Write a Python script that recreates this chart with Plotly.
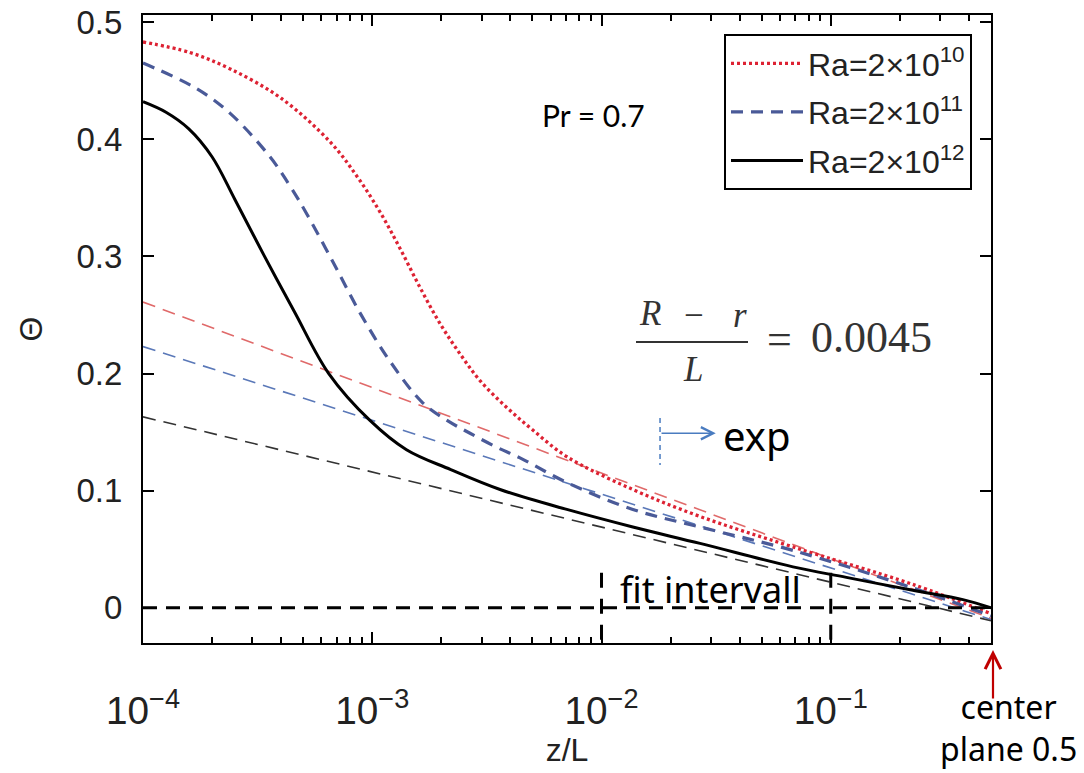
import plotly.graph_objects as go
import math

# ---------------- data ----------------
z_ra10 = [1.0e-4, 1.6e-4, 2.4e-4, 4.0e-4, 6.6e-4, 8.6e-4, 1.08e-3, 1.32e-3, 1.61e-3,
          1.97e-3, 2.41e-3, 2.95e-3, 3.86e-3, 5.0e-3, 7.06e-3, 1.37e-2, 2.69e-2,
          6.84e-2, 0.228, 0.5]
theta_ra10 = [0.483, 0.474, 0.460, 0.435, 0.397, 0.368, 0.338, 0.307, 0.274,
              0.243, 0.217, 0.194, 0.171, 0.152, 0.129, 0.101, 0.078,
              0.052, 0.020, -0.005]

z_ra11 = [1.0e-4, 1.72e-4, 2.4e-4, 3.58e-4, 4.38e-4, 5.19e-4, 6.75e-4, 8.83e-4, 1.19e-3,
          1.66e-3, 2.12e-3, 2.67e-3, 3.50e-3, 4.41e-3, 7.06e-3, 1.37e-2, 2.69e-2,
          6.84e-2, 0.228, 0.5]
theta_ra11 = [0.465, 0.443, 0.422, 0.385, 0.360, 0.336, 0.295, 0.252, 0.211,
              0.175, 0.160, 0.149, 0.137, 0.128, 0.107, 0.084, 0.069,
              0.049, 0.017, -0.007]

z_ra12 = [1.0e-4, 1.26e-4, 1.58e-4, 2.0e-4, 2.51e-4, 3.39e-4, 4.57e-4, 6.46e-4, 9.77e-4,
          1.41e-3, 2.2e-3, 3.61e-3, 7.06e-3, 1.37e-2, 2.69e-2, 6.84e-2, 0.117,
          0.228, 0.377, 0.5]
theta_ra12 = [0.432, 0.423, 0.409, 0.385, 0.349, 0.300, 0.253, 0.200, 0.160,
              0.135, 0.118, 0.101, 0.084, 0.069, 0.055, 0.035, 0.026,
              0.015, 0.007, 0.0]

# logarithmic fits (straight lines in log z)
fit_z = [1e-4, 0.5]
fit_ra10 = [0.261, -0.009]
fit_ra11 = [0.223, -0.010]
fit_ra12 = [0.163, -0.011]

zero_z = [1e-4, 0.5]
zero_theta = [0.0, 0.0]

fit_interval = [1e-2, 1e-1]
fit_mark_theta = [0.030, -0.030]

exp_z = 0.018
exp_theta = [0.162, 0.122]

legend_names = ["Ra=2×10<sup>10</sup>", "Ra=2×10<sup>11</sup>", "Ra=2×10<sup>12</sup>"]
y_ticks = [0, 0.1, 0.2, 0.3, 0.4, 0.5]

# ---------------- layout helpers (pixel -> paper) ----------------
L, R, T, B = 143, 991, 15, 643
def px(x):
    return (x - L) / (R - L)
def py(y):
    return (B - y) / (B - T)

fig = go.Figure()

# fit lines
fig.add_trace(go.Scatter(x=fit_z, y=fit_ra10, mode="lines", showlegend=False,
                         line=dict(color="#e06a6a", width=1.6, dash="13px,8px")))
fig.add_trace(go.Scatter(x=fit_z, y=fit_ra11, mode="lines", showlegend=False,
                         line=dict(color="#5a78b8", width=1.6, dash="13px,8px")))
fig.add_trace(go.Scatter(x=fit_z, y=fit_ra12, mode="lines", showlegend=False,
                         line=dict(color="#333333", width=1.6, dash="13px,8px")))

# main curves
fig.add_trace(go.Scatter(x=z_ra10, y=theta_ra10, mode="lines", name=legend_names[0],
                         legendgroup="g1",
                         line=dict(color="#dd2233", width=3.3, dash="3px,3px", shape="spline")))
fig.add_trace(go.Scatter(x=z_ra11, y=theta_ra11, mode="lines", name=legend_names[1],
                         legendgroup="g2",
                         line=dict(color="#4a5a98", width=3.2, dash="12px,8px", shape="spline")))
fig.add_trace(go.Scatter(x=z_ra12, y=theta_ra12, mode="lines", name=legend_names[2],
                         legendgroup="g3",
                         line=dict(color="black", width=3, shape="spline")))

# zero line and fit interval markers
fig.add_trace(go.Scatter(x=zero_z, y=zero_theta, mode="lines", showlegend=False,
                         line=dict(color="black", width=3, dash="14px,9px")))
for zf in fit_interval:
    fig.add_trace(go.Scatter(x=[zf, zf], y=fit_mark_theta, mode="lines", showlegend=False,
                             line=dict(color="black", width=3, dash="15px,11px")))

# exp marker (blue dashed vertical)
fig.add_trace(go.Scatter(x=[exp_z, exp_z], y=exp_theta, mode="lines", showlegend=False,
                         line=dict(color="#4a7cc0", width=1.5, dash="5px,4px")))

comic = "Noto Sans, Lato, sans-serif"
serif = "Liberation Serif, DejaVu Serif, serif"
ink = "#333333"

def label(xp, yp, text, font, xanchor="center"):
    return dict(x=px(xp), y=py(yp), xref="paper", yref="paper", text=text,
                showarrow=False, xanchor=xanchor, yanchor="middle", font=font)

ann = []
# exp arrow
ann.append(dict(x=math.log10(0.0315), y=0.149, ax=math.log10(exp_z), ay=0.149,
                xref="x", yref="y", axref="x", ayref="y", text="", showarrow=True,
                arrowhead=5, arrowsize=1.6, arrowwidth=1.5, arrowcolor="#4a7cc0"))
ann.append(label(721, 435, "exp", dict(family=comic, size=40, color="black"), "left"))
ann.append(label(710, 589, "fit intervall", dict(family=comic, size=36, color="black")))
ann.append(label(593, 115, "Pr = 0.7", dict(family="Lato, sans-serif", size=30, color="black")))
# formula (R - r)/L = 0.0045
ann.append(label(650, 314, "<i>R</i>", dict(family=serif, size=35, color=ink)))
ann.append(label(694, 316, "−", dict(family=serif, size=35, color=ink)))
ann.append(label(740, 316, "<i>r</i>", dict(family=serif, size=35, color=ink)))
ann.append(label(693, 369, "<i>L</i>", dict(family=serif, size=35, color=ink)))
ann.append(label(779, 339, "=", dict(family=serif, size=44, color=ink)))
ann.append(label(871, 337, "0.0045", dict(family=serif, size=44, color=ink)))
# center plane arrow
ann.append(dict(x=px(993), y=py(650), xref="paper", yref="paper", text="",
                ax=0, ay=50, showarrow=True, arrowhead=5, arrowsize=1.4,
                arrowwidth=2.2, arrowcolor="#c00000"))
ann.append(dict(x=px(1008), y=py(727), xref="paper", yref="paper",
                text="center<br>plane 0.5", showarrow=False, xanchor="center",
                yanchor="middle", align="center",
                font=dict(family=comic, size=32, color="black")))

shapes = [dict(type="line", xref="paper", yref="paper", x0=px(636), x1=px(748),
               y0=py(342), y1=py(342), line=dict(color=ink, width=2))]

sans = "Liberation Sans, Arial, sans-serif"
ytick_font = dict(family=sans, size=33, color="#222222")
xtick_font = dict(family=sans, size=31, color="#222222")
title_font = dict(family=sans, size=32, color="#222222")

fig.update_layout(
    width=1084, height=773,
    margin=dict(l=L, r=1084 - R, t=T, b=773 - B, autoexpand=False),
    paper_bgcolor="white", plot_bgcolor="white",
    annotations=ann, shapes=shapes,
    legend=dict(x=px(724), y=py(34), xanchor="left", yanchor="top",
                bgcolor="white", bordercolor="black", borderwidth=2,
                font=dict(family=sans, size=32, color="#222222"),
                itemwidth=72, traceorder="grouped", tracegroupgap=4),
    xaxis=dict(type="log", range=[-4, math.log10(0.5)], dtick=1, exponentformat="power",
               automargin=False,
               showgrid=False, zeroline=False, showline=True, linecolor="black", linewidth=2,
               mirror="ticks", ticks="inside", ticklen=11, tickwidth=2, tickcolor="black",
               minor=dict(ticks="inside", ticklen=6, tickwidth=1.5, tickcolor="black", dtick="D1"),
               tickfont=xtick_font, ticklabelstandoff=34,
               title=dict(text="z/L", font=title_font, standoff=6)),
    yaxis=dict(range=[-0.03, 0.506], tickvals=y_ticks, automargin=False,
               showgrid=False, zeroline=False, showline=True, linecolor="black", linewidth=2,
               mirror="ticks", ticks="inside", ticklen=11, tickwidth=2, tickcolor="black",
               tickfont=ytick_font, ticklabelstandoff=12,
               title=dict(text="Θ", font=title_font, standoff=24)),
)

fig.write_html("out.html")
